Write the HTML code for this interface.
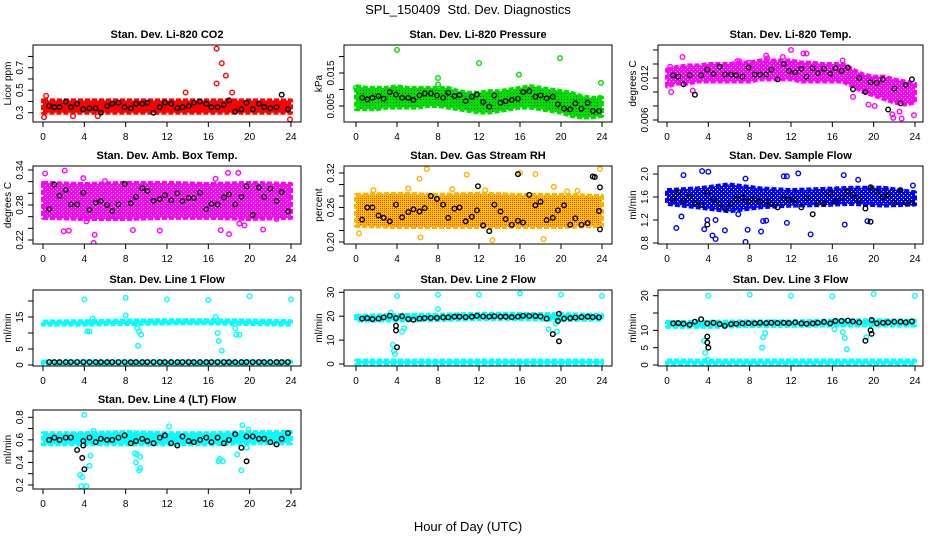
<!DOCTYPE html>
<html><head><meta charset="utf-8"><style>
html,body{margin:0;padding:0;background:#fff}
svg{display:block;font-family:"Liberation Sans",Arial,sans-serif}
</style></head><body>
<svg id="chart" width="936" height="540" viewBox="0 0 936 540" xmlns="http://www.w3.org/2000/svg">
<defs>
<pattern id="rhPat" width="2" height="2" patternUnits="userSpaceOnUse"><rect width="2" height="2" fill="#ffc800"/><rect width="1" height="1" fill="#ff3000"/></pattern>
<pattern id="grPat" width="3" height="3" patternUnits="userSpaceOnUse"><rect width="3" height="3" fill="#00e000"/><rect width="1" height="1" fill="#006000"/></pattern>
<pattern id="mgPat" width="4" height="4" patternUnits="userSpaceOnUse"><rect width="4" height="4" fill="#ff00ff"/><rect x="1" y="1" width="1" height="1" fill="#fff"/><rect x="3" y="3" width="1" height="1" fill="#fff"/></pattern>
<pattern id="blPat" width="4" height="4" patternUnits="userSpaceOnUse"><rect width="4" height="4" fill="#0000ff"/><rect x="1" y="1" width="1" height="1" fill="#fff"/><rect x="3" y="3" width="1" height="1" fill="#fff"/></pattern>
</defs>
<text x="468" y="14" text-anchor="middle" font-size="13" xml:space="preserve">SPL_150409  Std. Dev. Diagnostics</text>
<text x="468" y="531" text-anchor="middle" font-size="13">Hour of Day (UTC)</text>
</svg>
<script>
// ---- shared data ----
const blackHours=[0.6,1.1,1.6,2.2,2.7,3.3,3.9,4.5,5.1,5.6,6.2,6.7,7.3,7.9,8.5,9.0,9.6,10.1,10.7,11.3,11.8,12.4,13.0,13.5,14.1,14.6,15.2,15.8,16.3,16.9,17.5,18.0,18.6,19.2,19.7,20.3,20.9,21.4,22.0,22.6,23.1,23.7];
const hourly=[0,1,2,3,4,5,6,7,8,9,10,11,12,13,14,15,16,17,18,19,20,21,22,23,24];
const flatHours=[0,4,8,12,16,20,24];
const xTicks=[0,4,8,12,16,20,24];

// CO2
const co2Black=[0.36,0.35,0.35,0.40,0.35,0.38,0.33,0.34,0.34,0.30,0.36,0.38,0.39,0.35,0.34,0.38,0.38,0.39,0.30,0.35,0.39,0.38,0.34,0.35,0.36,0.39,0.40,0.38,0.35,0.35,0.37,0.41,0.31,0.33,0.39,0.33,0.38,0.35,0.34,0.35,0.46,0.33];
const co2Lo=[0.30,0.30,0.30,0.30,0.30];
const co2Hi=[0.41,0.41,0.41,0.41,0.41];
const co2BandX=[0,6,12,18,24];
const co2OutX=[16.8,17.3,17.7,16.8,13.8,18.3,0.1,0.3,23.9,2.9,5.3];
const co2OutY=[0.87,0.74,0.63,0.56,0.48,0.48,0.26,0.45,0.24,0.27,0.27];
const co2Ticks=[0.3,0.4,0.5,0.6,0.7,0.8];
const co2Labels=["0.3","","0.5","","0.7",""];

// Pressure
const prBlack=[0.0075,0.007,0.0075,0.008,0.0072,0.0092,0.0085,0.0075,0.0075,0.0068,0.0082,0.0088,0.0088,0.0082,0.0075,0.009,0.008,0.0083,0.0065,0.0078,0.0085,0.0062,0.0048,0.0082,0.006,0.0065,0.0068,0.0072,0.0092,0.0095,0.0078,0.0082,0.0073,0.0078,0.0055,0.0042,0.004,0.0058,0.0042,0.006,0.0035,0.0035];
const prLo=[0.004,0.004,0.004,0.0045,0.0045,0.0045,0.0045,0.005,0.005,0.0045,0.004,0.0035,0.003,0.003,0.0035,0.004,0.0045,0.0045,0.004,0.0035,0.003,0.002,0.0015,0.0015,0.002];
const prHi=[0.011,0.0105,0.0105,0.0105,0.011,0.0105,0.0105,0.0105,0.0105,0.0105,0.0095,0.009,0.009,0.0095,0.0095,0.010,0.0105,0.011,0.0105,0.010,0.0095,0.009,0.008,0.0075,0.0075];
const prOutX=[4,12,19.9,23.9,8,8,15.9,0,23.8];
const prOutY=[0.022,0.018,0.0195,0.012,0.0135,0.0115,0.0145,0.0105,0.0075];
const prTicks=[0.005,0.010,0.015,0.020];
const prLabels=["0.005","","0.015",""];

// Li-820 temp
const tpBlack=[0.0124,0.0122,0.0111,0.0124,0.0096,0.0124,0.0132,0.0126,0.0136,0.0125,0.0125,0.0124,0.0122,0.0135,0.0125,0.0125,0.0125,0.0132,0.0118,0.0140,0.0130,0.0128,0.0133,0.0122,0.0134,0.0127,0.0133,0.0126,0.0134,0.0130,0.0135,0.0104,0.0120,0.0100,0.0114,0.0113,0.0118,0.0075,0.0105,0.0084,0.0110,0.0118];
const tpLo=[0.0108,0.0112,0.0112,0.0115,0.0115,0.0115,0.0115,0.0115,0.0115,0.0118,0.0118,0.0118,0.0118,0.0115,0.0115,0.0115,0.0115,0.0115,0.0108,0.0100,0.0095,0.0090,0.0085,0.0082,0.0085];
const tpHi=[0.0132,0.0136,0.0138,0.0138,0.0140,0.0140,0.0140,0.0142,0.0142,0.0145,0.0145,0.0145,0.0145,0.0142,0.0142,0.0140,0.0140,0.0140,0.0132,0.0125,0.0122,0.0122,0.0118,0.0115,0.0112];
const tpOutX=[1.5,0.3,0.4,6.8,7.0,9.6,9.7,11.2,12.0,13.2,13.5,17.0,21.8,21.9,22.7,22.5,23.9,19.5,20.1,2.5,18.0,7.9];
const tpOutY=[0.0150,0.0136,0.0100,0.0144,0.0144,0.0152,0.0148,0.0150,0.0160,0.0155,0.0155,0.0145,0.0068,0.0063,0.0062,0.0072,0.0067,0.0082,0.0080,0.0102,0.0093,0.0142];
const tpTicks=[0.006,0.008,0.010,0.012,0.014,0.016];
const tpLabels=["0.006","","","0.012","",""];

// Amb box temp
const abBlack=[0.273,0.315,0.296,0.306,0.281,0.281,0.301,0.272,0.284,0.287,0.280,0.270,0.281,0.316,0.283,0.294,0.309,0.304,0.287,0.290,0.297,0.288,0.300,0.287,0.292,0.292,0.301,0.273,0.282,0.281,0.293,0.298,0.281,0.294,0.312,0.263,0.310,0.294,0.308,0.287,0.302,0.269];
const abLo=[0.258,0.256,0.256,0.258,0.258,0.256,0.258];
const abHi=[0.318,0.316,0.318,0.318,0.316,0.318,0.316];
const abOutX=[0.2,2.0,2.5,4.9,5.0,8.7,11.3,16.7,17.2,18.0,19.0,19.5,21.3,17.9,18.9,2.1,4.2,0.3,3.9,6.0,22.6];
const abOutY=[0.334,0.235,0.236,0.215,0.229,0.237,0.236,0.325,0.237,0.230,0.248,0.245,0.238,0.335,0.335,0.339,0.252,0.285,0.326,0.321,0.256];
const abTicks=[0.22,0.24,0.26,0.28,0.30,0.32,0.34];
const abLabels=["0.22","","","0.28","","","0.34"];

// Gas stream RH
const rhBlack=[0.239,0.260,0.260,0.246,0.242,0.236,0.265,0.243,0.252,0.257,0.253,0.259,0.280,0.275,0.265,0.242,0.258,0.260,0.236,0.244,0.255,0.229,0.219,0.265,0.253,0.240,0.230,0.237,0.234,0.282,0.264,0.270,0.238,0.242,0.255,0.264,0.230,0.241,0.230,0.233,0.314,0.254];
const rhLo=[0.228,0.226,0.226,0.226,0.226,0.226,0.228];
const rhHi=[0.282,0.284,0.282,0.284,0.282,0.282,0.280];
const rhOutX=[6.9,6.2,10.8,16.0,17.5,23.8,0.3,6.3,13.3,18.3,19.3,1.7,5.1,9.4,12.6,20.6,21.6];
const rhOutY=[0.327,0.310,0.317,0.320,0.318,0.327,0.215,0.208,0.203,0.205,0.296,0.290,0.293,0.292,0.290,0.288,0.289];
const rhExtraX=[11.9,15.8,23.3,23.8,23.8];
const rhExtraY=[0.297,0.318,0.313,0.295,0.222];
const rhTicks=[0.20,0.22,0.24,0.26,0.28,0.30,0.32];
const rhLabels=["0.20","","","0.26","","","0.32"];

// Sample flow
const sfBlack=[1.57,1.68,1.53,1.61,1.50,1.47,1.68,1.56,1.48,1.40,1.48,1.57,1.59,1.52,1.57,1.52,1.52,1.48,1.42,1.57,1.55,1.55,1.42,1.58,1.30,1.50,1.49,1.67,1.52,1.59,1.70,1.64,1.55,1.40,1.77,1.69,1.60,1.64,1.50,1.72,1.50,1.50];
const sfLo=[1.48,1.42,1.35,1.42,1.45,1.46,1.48,1.45,1.47];
const sfHi=[1.72,1.75,1.82,1.75,1.72,1.74,1.76,1.76,1.68];
const sfBandX=[0,3,6,9,12,15,18,21,24];
const sfOutX=[3.4,4.0,1.6,7.6,11.3,11.6,12.7,17.1,0.9,3.6,4.4,4.7,5.6,7.6,7.8,9.1,13.9,9.3,9.6,11.6,17.2,19.4,4.7,6.9,3.9,1.4,18.5,23.8];
const sfOutY=[2.05,2.04,1.98,1.92,1.96,1.96,2.01,1.98,1.06,1.04,0.93,0.87,1.02,0.82,1.03,1.0,0.95,1.18,1.19,1.15,1.12,1.18,1.2,1.3,1.2,1.26,1.9,1.8];
const sfExtraX=[19.7,3.9];
const sfExtraY=[1.17,1.12];
const sfTicks=[0.8,1.2,1.6,2.0];
const sfLabels=["0.8","1.2","1.6","2.0"];

// Line 1
const l1Black=[0.9,0.9,0.9,0.9,0.9,0.9,0.9,0.9,0.9,0.9,0.9,0.9,0.9,0.9,0.9,0.9,0.9,0.9,0.9,0.9,0.9,0.9,0.9,0.9,0.9,0.9,0.9,0.9,0.9,0.9,0.9,0.9,0.9,0.9,0.9,0.9,0.9,0.9,0.9,0.9,0.9,0.9];
const l1Lo=[12.6,12.6,12.8,13.0,13.0,12.8,12.6];
const l1Hi=[13.6,13.7,13.9,14.0,14.0,13.9,13.7];
const l1Lo2=[0.4,0.4,0.4,0.4,0.4,0.4,0.4];
const l1Hi2=[1.1,1.1,1.1,1.1,1.1,1.1,1.1];
const l1OutX=[4,8,12,16,20,24,8,4.3,4.5,9.1,9.3,9.5,9.2,16.9,17.0,17.3,18.6,18.7,19.0,4.8,16.7];
const l1OutY=[20.5,21,20.5,20.3,21.5,20.5,15.5,10.5,10.5,11.5,10.5,9.5,6,10,7.5,4.5,11.5,9.5,9.5,14.5,15];
const l1Ticks=[0,5,10,15,20];
const l1Labels=["0","5","","15",""];

// Line 2
const l2Black=[19,19.2,18.8,19,19.5,20.2,19.2,20,18.8,18.5,19,19.2,19.3,19.3,19.5,19.5,19.8,19.8,19.6,19.8,20.2,19.9,19.8,20,19.8,19.8,19.6,19.8,20.2,20.1,20.1,19.9,19,12.5,18,19,19.2,19.4,19.6,19.8,19.6,19.5];
const l2Lo=[18.2,18.2,18.4,18.8,18.8,18.4,18.6];
const l2Hi=[20.2,20.5,20.6,21.0,21.0,20.8,20.6];
const l2Lo2=[0.2,0.2,0.2,0.2,0.2,0.2,0.2];
const l2Hi2=[1.4,1.4,1.4,1.4,1.4,1.4,1.4];
const l2OutX=[4,8,12,16,20,24,8,3.6,3.7,3.8,4.5,4.7,18.8,19.6,19.5,3.4];
const l2OutY=[28.5,29,29,29.5,29,28.5,23,8,5.5,4.2,13.5,15,14.5,13.5,17,21.5];
const l2ExtraX=[3.9,3.9,4.0,19.8,19.8];
const l2ExtraY=[16,14,7,9.5,21];
const l2Ticks=[0,10,20,30];
const l2Labels=["0","10","20","30"];

// Line 3
const l3Black=[12,12.1,11.9,11.6,12.5,13.2,12,12.2,11.8,11.3,11.8,11.9,12,12.1,12,12.2,12.1,12.2,12.1,12.2,12.1,12.3,12,11.9,12,12.2,12.4,12,12.7,12.7,12.8,12.6,12.3,7,10,12,12.2,12.3,12.5,12.5,12.3,12.6];
const l3Lo=[11.0,11.0,11.2,11.3,11.4,11.4,11.4];
const l3Hi=[12.4,12.5,12.6,12.6,12.8,12.9,12.8];
const l3Lo2=[0.4,0.4,0.4,0.4,0.4,0.4,0.4];
const l3Hi2=[1.3,1.3,1.3,1.3,1.3,1.3,1.3];
const l3OutX=[4,8,12,16,20,24,3.6,3.7,3.9,9.2,9.3,9.5,16.2,17.0,17.2,17.4,19.3];
const l3OutY=[20,20.3,20,19.8,20.5,20,7,3.5,1.5,5,8,9.2,10.3,9.5,7.8,4.5,8];
const l3ExtraX=[3.9,3.9,4.0,19.8,19.8];
const l3ExtraY=[8.2,6.5,5,9,13];
const l3Ticks=[0,5,10,15,20];
const l3Labels=["0","5","10","","20"];

// Line 4
const l4Black=[0.60,0.62,0.60,0.62,0.62,0.51,0.59,0.62,0.58,0.61,0.60,0.60,0.62,0.64,0.57,0.59,0.61,0.59,0.57,0.62,0.64,0.57,0.55,0.63,0.59,0.58,0.60,0.62,0.58,0.62,0.57,0.60,0.65,0.53,0.63,0.63,0.61,0.61,0.58,0.56,0.61,0.66];
const l4Lo=[0.56,0.56,0.56,0.56,0.56,0.57,0.57];
const l4Hi=[0.66,0.66,0.67,0.66,0.66,0.67,0.67];
const l4OutX=[4,3.6,3.8,3.7,4.2,4.5,4.6,8.9,9.1,9.4,9.0,9.3,9.4,12.2,17,17.1,17.4,19.3,19.2,18.8,19.7,19.9,4.9];
const l4OutY=[0.82,0.29,0.27,0.19,0.19,0.37,0.46,0.48,0.47,0.45,0.40,0.33,0.35,0.72,0.41,0.43,0.41,0.73,0.33,0.47,0.53,0.69,0.68];
const l4ExtraX=[3.8,4.0,19.7,3.9];
const l4ExtraY=[0.44,0.34,0.41,0.55];
const l4Ticks=[0.2,0.3,0.4,0.5,0.6,0.7,0.8];
const l4Labels=["0.2","","0.4","","0.6","","0.8"];

// ---- layout ----
const colBoxL=[33,344,658],colBoxR=[301,612,923],colX0=[43,356,667],colX24=[291,602,915];
const rowBoxT=[45,166,290,410],rowBoxB=[122,244,366,489];
const NS="http://www.w3.org/2000/svg";
const svg=document.getElementById('chart');
function mk(tag,attrs,parent){const e=document.createElementNS(NS,tag);for(const k in attrs)e.setAttribute(k,attrs[k]);(parent||svg).appendChild(e);return e;}

const panels=[
 {key:'co2',c:0,r:0,title:'Stan. Dev. Li-820 CO2',ylab:'Licor ppm',v1:0.3,p1:112.7,v2:0.7,p2:67.7,color:'#ff0000',fill:'#ff0000',black:co2Black,bands:[[co2BandX,co2Lo,co2Hi]],outX:co2OutX,outY:co2OutY,ticks:co2Ticks,labels:co2Labels},
 {key:'pressure',c:1,r:0,title:'Stan. Dev. Li-820 Pressure',ylab:'kPa',v1:0.005,p1:106,v2:0.015,p2:73,color:'#00dd00',fill:'url(#grPat)',black:prBlack,bands:[[hourly,prLo,prHi]],outX:prOutX,outY:prOutY,ticks:prTicks,labels:prLabels},
 {key:'temp',c:2,r:0,title:'Stan. Dev. Li-820 Temp.',ylab:'degrees C',v1:0.006,p1:120,v2:0.012,p2:78,color:'#ff00ff',fill:'url(#mgPat)',black:tpBlack,bands:[[hourly,tpLo,tpHi]],outX:tpOutX,outY:tpOutY,ticks:tpTicks,labels:tpLabels},
 {key:'amb',c:0,r:1,title:'Stan. Dev. Amb. Box Temp.',ylab:'degrees C',v1:0.22,p1:240,v2:0.34,p2:170,color:'#ff00ff',fill:'url(#mgPat)',black:abBlack,bands:[[flatHours,abLo,abHi]],outX:abOutX,outY:abOutY,ticks:abTicks,labels:abLabels},
 {key:'rh',c:1,r:1,title:'Stan. Dev. Gas Stream RH',ylab:'percent',v1:0.20,p1:242,v2:0.32,p2:173,color:'#ffb000',fill:'url(#rhPat)',black:rhBlack,bands:[[flatHours,rhLo,rhHi]],outX:rhOutX,outY:rhOutY,exX:rhExtraX,exY:rhExtraY,ticks:rhTicks,labels:rhLabels},
 {key:'sample',c:2,r:1,title:'Stan. Dev. Sample Flow',ylab:'ml/min',v1:0.8,p1:243,v2:2.0,p2:174,color:'#0000ff',fill:'url(#blPat)',black:sfBlack,bands:[[sfBandX,sfLo,sfHi]],outX:sfOutX,outY:sfOutY,exX:sfExtraX,exY:sfExtraY,ticks:sfTicks,labels:sfLabels},
 {key:'line1',c:0,r:2,title:'Stan. Dev. Line 1 Flow',ylab:'ml/min',v1:0,p1:365,v2:20,p2:301,color:'#00ffff',fill:'#00ffff',black:l1Black,bands:[[flatHours,l1Lo,l1Hi],[flatHours,l1Lo2,l1Hi2]],outX:l1OutX,outY:l1OutY,ticks:l1Ticks,labels:l1Labels},
 {key:'line2',c:1,r:2,title:'Stan. Dev. Line 2 Flow',ylab:'ml/min',v1:0,p1:364,v2:30,p2:292.3,color:'#00ffff',fill:'#00ffff',black:l2Black,bands:[[flatHours,l2Lo,l2Hi],[flatHours,l2Lo2,l2Hi2]],outX:l2OutX,outY:l2OutY,exX:l2ExtraX,exY:l2ExtraY,ticks:l2Ticks,labels:l2Labels},
 {key:'line3',c:2,r:2,title:'Stan. Dev. Line 3 Flow',ylab:'ml/min',v1:0,p1:365,v2:20,p2:295.7,color:'#00ffff',fill:'#00ffff',black:l3Black,bands:[[flatHours,l3Lo,l3Hi],[flatHours,l3Lo2,l3Hi2]],outX:l3OutX,outY:l3OutY,exX:l3ExtraX,exY:l3ExtraY,ticks:l3Ticks,labels:l3Labels},
 {key:'line4',c:0,r:3,title:'Stan. Dev. Line 4 (LT) Flow',ylab:'ml/min',v1:0.2,p1:485,v2:0.8,p2:417.3,color:'#00ffff',fill:'#00ffff',black:l4Black,bands:[[flatHours,l4Lo,l4Hi]],outX:l4OutX,outY:l4OutY,exX:l4ExtraX,exY:l4ExtraY,ticks:l4Ticks,labels:l4Labels}
];

panels.forEach(p=>{
  const L=colBoxL[p.c],R=colBoxR[p.c],T=rowBoxT[p.r],B=rowBoxB[p.r];
  const xs=h=>colX0[p.c]+(colX24[p.c]-colX0[p.c])*h/24;
  const ys=v=>p.p1+(v-p.v1)*(p.p2-p.p1)/(p.v2-p.v1);
  const g=mk('g',{});
  
  
  const cp=mk('clipPath',{id:'clip-'+p.key},g);
  mk('rect',{x:L,y:T,width:R-L,height:B-T},cp);
  const plot=mk('g',{'clip-path':'url(#clip-'+p.key+')'},g);
  p.bands.forEach((b,bi)=>{
    const [bx,lo,hi]=b;
    let pts=bx.map((h,i)=>xs(h)+','+ys(hi[i]));
    for(let i=bx.length-1;i>=0;i--)pts.push(xs(bx[i])+','+ys(lo[i]));
    const poly=mk('polygon',{points:pts.join(' '),fill:p.fill,stroke:p.color,'stroke-width':4,'stroke-linejoin':'round','stroke-dasharray':'5 2'},plot);
    
    
  });
  p.outX.forEach((h,i)=>{
    const c=mk('circle',{cx:xs(h),cy:ys(p.outY[i]),r:2.3,fill:'none',stroke:p.color,'stroke-width':1.4},plot);
    
    
  });
  blackHours.forEach((h,i)=>{
    const c=mk('circle',{cx:xs(h),cy:ys(p.black[i]),r:2.3,fill:'none',stroke:'#000','stroke-width':1.4},plot);
    
    
  });
  (p.exX||[]).forEach((h,i)=>{
    const c=mk('circle',{cx:xs(h),cy:ys(p.exY[i]),r:2.3,fill:'none',stroke:'#000','stroke-width':1.4},plot);
    
    
  });
  const box=mk('rect',{x:L,y:T,width:R-L,height:B-T,fill:'none',stroke:'#000','stroke-width':1},g);
  
  
  const t=mk('text',{x:(L+R)/2,y:T-7,'text-anchor':'middle','font-size':11,'font-weight':'bold'},g);
  t.textContent=p.title;
  
  
  const xa=mk('g',{},g);
  
  
  mk('line',{x1:xs(0),x2:xs(24),y1:B,y2:B,stroke:'#000'},xa);
  xTicks.forEach(h=>{
    mk('line',{x1:xs(h),x2:xs(h),y1:B,y2:B+5,stroke:'#000'},xa);
    const tl=mk('text',{x:xs(h),y:B+18,'text-anchor':'middle','font-size':10},xa);
    tl.textContent=String(h);
    
    
  });
  const ya=mk('g',{},g);
  
  
  const tp=p.ticks.map(ys).filter(y=>y>=T-1&&y<=B+1);
  mk('line',{x1:L,x2:L,y1:Math.min(...tp),y2:Math.max(...tp),stroke:'#000'},ya);
  p.ticks.forEach((v,i)=>{
    const y=ys(v); if(y<T-1||y>B+1)return;
    mk('line',{x1:L-5,x2:L,y1:y,y2:y,stroke:'#000'},ya);
    if(p.labels[i]){
      const tl=mk('text',{x:L-10,y:y,'text-anchor':'middle','font-size':10,transform:'rotate(-90 '+(L-10)+' '+y+')'},ya);
      tl.textContent=p.labels[i];
      
      
    }
  });
  const yl=mk('text',{x:L-22,y:(T+B)/2,'text-anchor':'middle','font-size':10,transform:'rotate(-90 '+(L-22)+' '+((T+B)/2)+')'},g);
  yl.textContent=p.ylab;
  
  
});
</script>
</body></html>
